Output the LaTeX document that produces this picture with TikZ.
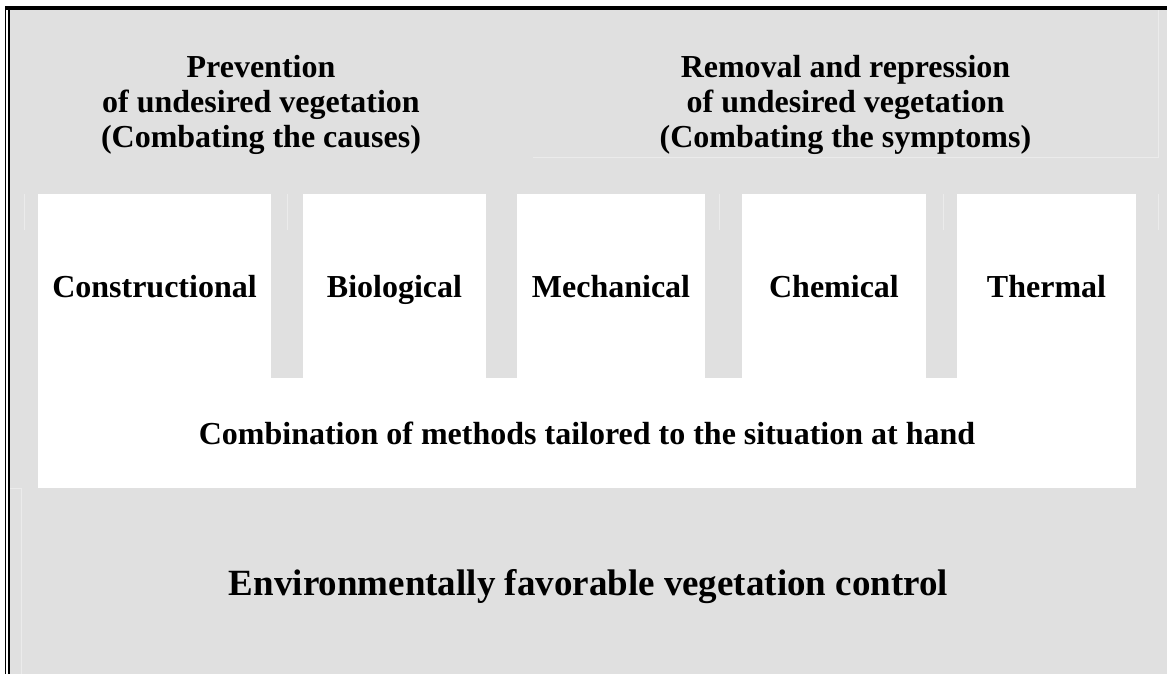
\documentclass[tikz,border=0pt]{standalone}
\usepackage{fontspec}
\setmainfont{Liberation Serif}
\definecolor{panelgray}{HTML}{E0E0E0}
\definecolor{faintline}{HTML}{EBEBEB}

\begin{document}
\begin{tikzpicture}[
        x=1pt, y=-1pt,
        method/.style={fill=white, inner sep=0pt, text height=22pt, text depth=0pt,
            font=\fontsize{32}{35}\selectfont\bfseries},
        heading/.style={align=center, anchor=base, font=\fontsize{32}{35}\selectfont\bfseries},
        faint/.style={draw=faintline, line width=1pt}
    ]
        % Background and frame
        \useasboundingbox (0,0) rectangle (1167,674);
        \fill[white] (0,0) rectangle (1167,674);
        \fill[panelgray] (10,10) rectangle (1167,674);
        \fill[black] (5,6) rectangle (1167,10);
        \fill[black] (5,6) rectangle (6.2,674);
        \fill[black] (8,6) rectangle (10,674);

        % Faint cell borders
        \draw[faint] (533,157) -- (1158,157) -- (1158,10);
        \foreach \x in {24,287,719,943,1158}
            \draw[faint] (\x,194) -- (\x,230);
        \draw[faint] (10,488) -- (21,488) -- (21,674);

        % Headings (base = last line)
        \node[heading] (prev) at (261,147) {Prevention\\of undesired vegetation\\(Combating the causes)};
        \node[heading] (remov) at (845.5,147) {Removal and repression\\of undesired vegetation\\(Combating the symptoms)};

        % Methods (5 columns)
        \foreach \name/\cx/\w/\txt in {cons/154.5/233/Constructional, bio/394.5/183/Biological,
                mech/611/188/Mechanical, chem/834/184/Chemical, therm/1046.5/179/Thermal}
            \node[method, minimum width=\w pt, minimum height=184pt] (\name) at (\cx,286) {\txt};

        % Combination
        \node[method, minimum width=1098pt, minimum height=110pt] (combo) at (587,433)
            {Combination of methods tailored to the situation at hand};

        % Goal
        \node[anchor=base, font=\fontsize{37}{40}\selectfont\bfseries] (goal) at (588.5,595)
            {Environmentally favorable vegetation control};

    \end{tikzpicture}
\end{document}
